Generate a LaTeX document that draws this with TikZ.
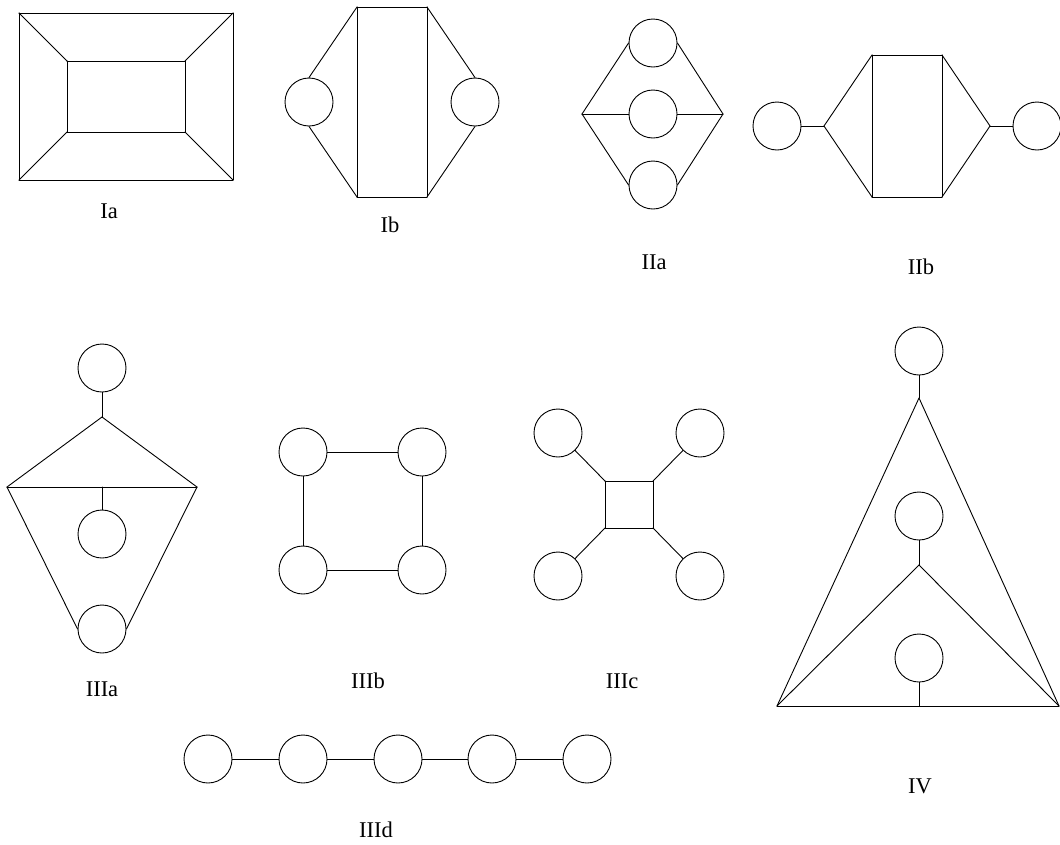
\documentclass[tikz,border=0pt]{standalone}
\usepackage{fontspec}
\setmainfont{Liberation Serif}
\usetikzlibrary{positioning}

\begin{document}
\begin{tikzpicture}
  [x=1pt,y=-1pt,line width=.9pt,line cap=round,
   ring/.style={circle,draw,minimum size=48pt,inner sep=0pt},
   tag/.style={font=\fontsize{22.5}{27}\selectfont,inner sep=0pt}]
  \useasboundingbox (0,0) rectangle (1060,844);

  % Ia
  \coordinate (a1) at (19,13);
  \coordinate (a2) at (233,13);
  \coordinate (a3) at (233,180);
  \coordinate (a4) at (19,180);
  \coordinate (a5) at (67,61);
  \coordinate (a6) at (185,61);
  \coordinate (a7) at (185,132);
  \coordinate (a8) at (67,132);
  \node[tag] (la) at (109,211) {Ia};
\foreach \from/\to in {a1/a2,a2/a3,a3/a4,a4/a1,a5/a6,a6/a7,a7/a8,a8/a5,a1/a5,a2/a6,a3/a7,a4/a8}
    \draw (\from) -- (\to);

  % Ib
  \coordinate (b1) at (357,7);
  \coordinate (b2) at (427,7);
  \coordinate (b3) at (427,197);
  \coordinate (b4) at (357,197);
  \node[ring] (b5) at (309,102) {};
  \node[ring] (b6) at (475,102) {};
  \node[tag] (lb) at (390,225) {Ib};
\foreach \from/\to in {b1/b2,b2/b3,b3/b4,b4/b1,b1/b5.north,b4/b5.south,b2/b6.north,b3/b6.south}
    \draw (\from) -- (\to);

  % IIa
  \node[ring] (c1) at (653,43) {};
  \node[ring] (c2) at (653,114) {};
  \node[ring] (c3) at (653,185) {};
  \coordinate (c4) at (582,114);
  \coordinate (c5) at (723,114);
  \node[tag] (lc) at (654,262) {IIa};
\foreach \from/\to in {c4/c1.west,c4/c2.west,c4/c3.west,c5/c1.east,c5/c2.east,c5/c3.east}
    \draw (\from) -- (\to);

  % IIb
  \node[ring] (d1) at (777,126) {};
  \node[ring] (d2) at (1037,126) {};
  \coordinate (d3) at (824,126);
  \coordinate (d4) at (990,126);
  \coordinate (d5) at (872,55);
  \coordinate (d6) at (942,55);
  \coordinate (d7) at (942,197);
  \coordinate (d8) at (872,197);
  \node[tag] (ld) at (921,267) {IIb};
\foreach \from/\to in {d1/d3,d3/d5,d3/d8,d5/d6,d6/d7,d7/d8,d8/d5,d6/d4,d7/d4,d4/d2}
    \draw (\from) -- (\to);

  % IIIa
  \node[ring] (e1) at (102,368) {};
  \coordinate (e2) at (102,417);
  \coordinate (e3) at (7,487);
  \coordinate (e4) at (197,487);
  \coordinate (e5) at (102,487);
  \node[ring] (e6) at (102,534) {};
  \node[ring] (e7) at (102,629) {};
  \node[tag] (le) at (102,689) {IIIa};
\foreach \from/\to in {e1/e2,e2/e3,e2/e4,e3/e4,e5/e6,e3/e7.west,e4/e7.east}
    \draw (\from) -- (\to);

  % IIIb
  \node[ring] (f1) at (303,452) {};
  \node[ring] (f2) at (422,452) {};
  \node[ring] (f3) at (303,570) {};
  \node[ring] (f4) at (422,570) {};
  \node[tag] (lf) at (368,681) {IIIb};
\foreach \from/\to in {f1/f2,f2/f4,f4/f3,f3/f1}
    \draw (\from) -- (\to);

  % IIIc
  \node[ring] (g1) at (558,433) {};
  \node[ring] (g2) at (700,433) {};
  \node[ring] (g3) at (558,576) {};
  \node[ring] (g4) at (700,576) {};
  \coordinate (g5) at (605,481);
  \coordinate (g6) at (653,481);
  \coordinate (g7) at (653,528);
  \coordinate (g8) at (605,528);
  \node[tag] (lg) at (622,681) {IIIc};
\foreach \from/\to in {g5/g6,g6/g7,g7/g8,g8/g5,g5/g1,g6/g2,g7/g4,g8/g3}
    \draw (\from) -- (\to);

  % IIId
\foreach \i/\x in {1/208,2/303,3/398,4/492,5/587}
    \node[ring] (h\i) at (\x,759) {};
  \node[tag] (lh) at (376,830) {IIId};
\foreach \from/\to in {h1/h2,h2/h3,h3/h4,h4/h5}
    \draw (\from) -- (\to);

  % IV
  \node[ring] (k1) at (919,351) {};
  \coordinate (k2) at (919,398);
  \coordinate (k3) at (777,706);
  \coordinate (k4) at (1059,706);
  \node[ring] (k5) at (919,516) {};
  \coordinate (k6) at (919,565);
  \node[ring] (k7) at (919,658) {};
  \coordinate (k8) at (919,706);
  \node[tag] (lk) at (920,786) {IV};
\foreach \from/\to in {k1/k2,k2/k3,k2/k4,k3/k4,k5/k6,k6/k3,k6/k4,k7/k8}
    \draw (\from) -- (\to);

\end{tikzpicture}
\end{document}
